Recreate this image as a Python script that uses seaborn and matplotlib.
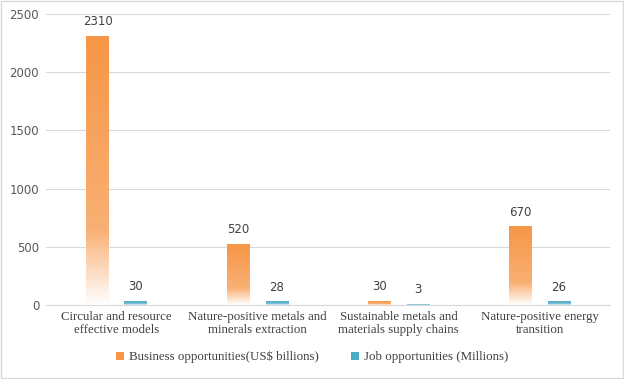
import seaborn as sns
import matplotlib.pyplot as plt
import matplotlib.colors as mcolors
from matplotlib.patches import Patch, Rectangle
import pandas as pd
import numpy as np

categories = ["Circular and resource\neffective models",
              "Nature-positive metals and\nminerals extraction",
              "Sustainable metals and\nmaterials supply chains",
              "Nature-positive energy\ntransition"]
business = [2310, 520, 30, 670]
jobs = [30, 28, 3, 26]
series = ["Business opportunities(US$ billions)", "Job opportunities (Millions)"]
colors = ["#F79646", "#4BACC6"]

df = pd.DataFrame({
    "category": categories * 2,
    "value": business + jobs,
    "series": [series[0]] * 4 + [series[1]] * 4,
})

sns.set_style("white")
fig = plt.figure(figsize=(6.24, 3.79), dpi=100)
ax = fig.add_axes([0.074, 0.195, 0.904, 0.768])

sns.barplot(data=df, x="category", y="value", hue="series", palette=colors,
            width=0.54, gap=0.41, legend=False, ax=ax, errorbar=None)

ax.set_ylim(0, 2500)
ax.set_yticks(range(0, 2501, 500))
xlim = ax.get_xlim()

# gradient fill: colour at the top fading to white at the bottom
for i, p in enumerate(ax.patches):
    col = colors[0] if i < 4 else colors[1]
    light = mcolors.to_hex(np.array(mcolors.to_rgb(col)) * 0.75 + 0.25)
    cmap = mcolors.LinearSegmentedColormap.from_list(
        "g", [(0, col), (0.72, light), (1, "#FFFFFF")])
    x, w, h = p.get_x(), p.get_width(), p.get_height()
    if h <= 0:
        continue
    grad = np.linspace(0, 1, 256).reshape(-1, 1)
    ax.imshow(grad, cmap=cmap, extent=[x, x + w, 0, h], aspect="auto",
              origin="upper", zorder=3)
    p.set_facecolor("none")
    p.set_edgecolor("none")

ax.set_xlim(xlim)
ax.set_ylim(0, 2500)

for i, p in enumerate(ax.patches):
    h = p.get_height()
    ax.annotate(f"{h:g}", (p.get_x() + p.get_width() / 2, h), xytext=(0, 6),
                textcoords="offset points", ha="center", va="bottom",
                fontsize=8.5, color="#404040")

ax.grid(axis="y", color="#D9D9D9", linewidth=0.8)
ax.set_axisbelow(True)
for s in ["top", "right", "left"]:
    ax.spines[s].set_visible(False)
ax.spines["bottom"].set_color("#D9D9D9")
ax.tick_params(axis="y", length=0, labelsize=8.5, labelcolor="#595959", pad=5)
ax.tick_params(axis="x", length=0, pad=4)
for lab in ax.get_xticklabels():
    lab.set_fontfamily("Liberation Serif")
    lab.set_fontsize(9.3)
    lab.set_color("#404040")
ax.set_xlabel("")
ax.set_ylabel("")

handles = [Patch(facecolor=c, edgecolor="none") for c in colors]
leg = fig.legend(handles, series, loc="center", bbox_to_anchor=(0.5, 0.058),
                 ncol=2, frameon=False, handlelength=0.6, handleheight=0.6,
                 columnspacing=2.5, handletextpad=0.4,
                 prop={"family": "Liberation Serif", "size": 9.3})
for t in leg.get_texts():
    t.set_color("#404040")

fig.patches.append(Rectangle((0.002, 0.003), 0.996, 0.994, transform=fig.transFigure,
                             fill=False, edgecolor="#D9D9D9", linewidth=1))

fig.savefig("out.png", dpi=100)
